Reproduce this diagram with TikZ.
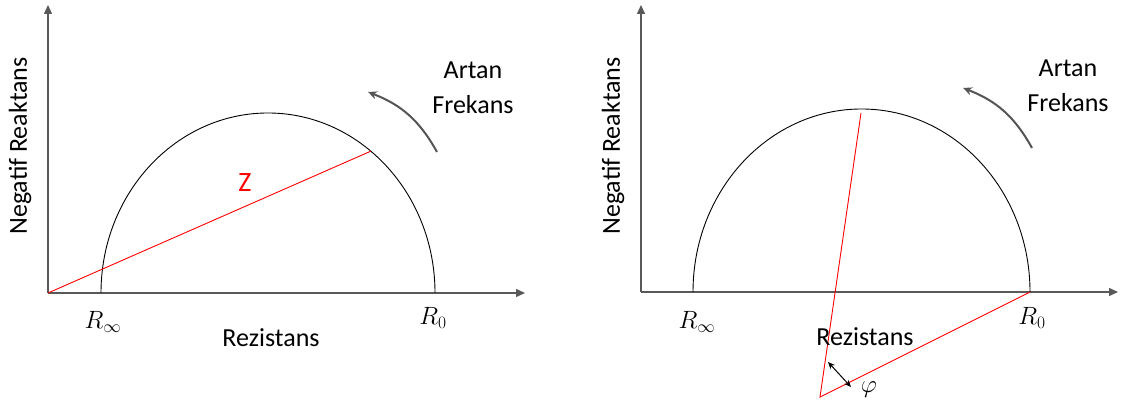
\RequirePackage{fix-cm}
\documentclass[tikz,border=0pt]{standalone}
\usepackage{fontspec}
\setmainfont{Carlito}
\usetikzlibrary{arrows.meta}
\definecolor{axgray}{HTML}{595959}
\definecolor{zred}{HTML}{FF0000}
\definecolor{arcgray}{HTML}{555555}

\begin{document}
\begin{tikzpicture}[
  x=1pt, y=1pt,
  axis/.style={axgray, line width=1.4pt, -{Triangle[length=9pt, width=8pt]}},
  circ/.style={black, line width=0.9pt},
  vec/.style={zred, line width=0.9pt},
  freq/.style={arcgray, line width=2pt, -{Stealth[length=9pt, width=8pt]}, bend right=20},
  lbl/.style={font=\fontsize{26}{31}\selectfont, text=black, inner sep=0pt},
  mlbl/.style={font=\fontsize{25}{29}\selectfont, inner sep=0pt},
]

\useasboundingbox (0,0) rectangle (1129,409);

% ---------- Left plot ----------
\coordinate (oA) at (48,116);
\coordinate (yA) at (48,404);
\coordinate (xA) at (525,116);
\draw[axis] (oA) -- (yA);
\draw[axis] (oA) -- (xA);

% Semicircle
\draw[circ] (101,116) arc[start angle=180, end angle=0, x radius=167, y radius=180];

% Impedance vector
\coordinate (zA) at ({268+167*cos(52)},{116+180*sin(52)});
\draw[vec] (oA) -- (zA);
\node[lbl, text=zred, font=\fontsize{28}{32}\selectfont] (zlbl) at (245,226) {Z};

% Labels
\node[mlbl] (rinfA) at (103,87) {$R_\infty$};
\node[mlbl] (rzeroA) at (433,91) {$R_0$};
\node[lbl] (rezA) at (271,71) {Rezistans};
\node[lbl, rotate=90] (reakA) at (20,263) {Negatif Reaktans};
\node[lbl] (artA) at (473,339) {Artan};
\node[lbl] (frkA) at (473,304) {Frekans};

% Frequency arrow
\coordinate (fsA) at (437,257);
\coordinate (feA) at (368,317);
\draw[freq] (fsA) to (feA);

% ---------- Right plot ----------
\coordinate (oB) at (641,117);
\coordinate (yB) at (641,404);
\coordinate (xB) at (1118,117);
\draw[axis] (oB) -- (yB);
\draw[axis] (oB) -- (xB);

% Semicircle
\draw[circ] (693,117) arc[start angle=180, end angle=0, x radius=168.5, y radius=183];

% Phase construction
\coordinate (topB) at (861,296);
\coordinate (apexB) at (820,12);
\coordinate (rB) at (1030,117);
\draw[vec] (topB) -- (apexB) -- (rB);
\coordinate (paB) at (828,47);
\coordinate (pbB) at (851,22);
\draw[{Stealth[length=7pt, width=6pt]}-{Stealth[length=7pt, width=6pt]}, line width=1pt] (paB) -- (pbB);
\node[mlbl] (phiB) at (869,19) {$\varphi$};

% Labels
\node[mlbl] (rinfB) at (697,87) {$R_\infty$};
\node[mlbl] (rzeroB) at (1032,91) {$R_0$};
\node[lbl] (rezB) at (865,72) {Rezistans};
\node[lbl, rotate=90] (reakB) at (613,263) {Negatif Reaktans};
\node[lbl] (artB) at (1068,341) {Artan};
\node[lbl] (frkB) at (1068,306) {Frekans};

% Frequency arrow
\coordinate (fsB) at (1032,261);
\coordinate (feB) at (963,321);
\draw[freq] (fsB) to (feB);

\end{tikzpicture}
\end{document}
